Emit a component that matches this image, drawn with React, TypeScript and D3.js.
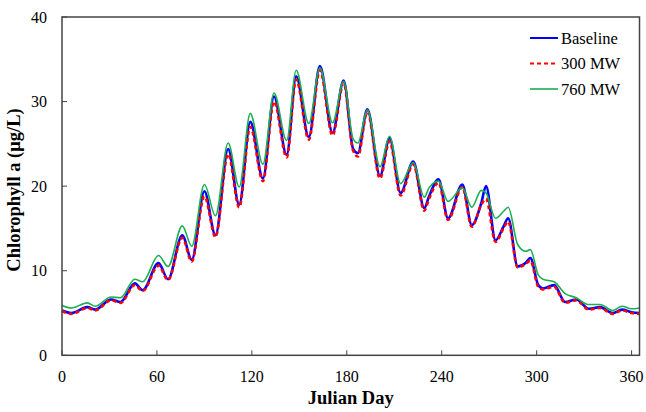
import React from "react";
import * as d3 from "d3";

const days = [0, 6, 16, 21, 31, 37, 46, 51, 61, 67, 76, 82, 90, 97, 105, 112, 119, 127, 134, 142, 148, 156, 163, 171, 178, 184, 187, 193, 201, 207, 214, 222, 229, 232, 238, 244, 253, 259, 265, 268, 274, 279, 282, 288, 293, 296, 301, 304, 311, 318, 325, 333, 340, 348, 354, 360, 365];

const baseline = [5.3, 5.0, 5.7, 5.4, 6.6, 6.3, 8.5, 7.7, 10.9, 9.0, 14.2, 11.3, 19.4, 14.2, 24.4, 17.8, 27.6, 20.9, 30.6, 23.7, 33.0, 25.8, 34.2, 26.3, 32.5, 24.4, 23.9, 29.1, 21.2, 25.7, 19.2, 22.9, 17.4, 18.8, 20.8, 16.2, 20.2, 15.4, 18.0, 20.0, 13.6, 15.2, 16.2, 10.5, 10.9, 11.5, 8.3, 7.9, 8.3, 6.3, 6.6, 5.5, 5.7, 5.0, 5.4, 5.1, 5.0];

const mw300 = [5.2, 4.9, 5.6, 5.3, 6.5, 6.2, 8.3, 7.6, 10.6, 8.9, 13.9, 11.1, 18.8, 14.0, 23.8, 17.5, 27.0, 20.6, 30.0, 23.4, 32.6, 25.5, 33.7, 26.0, 32.2, 24.2, 23.5, 28.8, 20.9, 25.3, 18.9, 22.6, 17.1, 18.5, 20.4, 16.0, 19.9, 15.2, 17.8, 18.5, 13.4, 15.0, 15.8, 10.4, 10.8, 11.2, 8.1, 7.8, 8.1, 6.2, 6.5, 5.4, 5.6, 4.9, 5.3, 5.0, 4.9];

const mw760 = [5.9, 5.6, 6.2, 5.8, 6.9, 6.8, 9.0, 8.7, 11.8, 10.5, 15.3, 12.9, 20.2, 16.5, 25.1, 19.9, 28.6, 22.6, 31.0, 25.4, 33.7, 27.4, 34.0, 27.5, 32.4, 25.6, 25.1, 29.0, 22.3, 25.9, 20.3, 22.8, 18.7, 19.8, 20.6, 18.2, 19.8, 17.5, 19.5, 19.2, 16.2, 17.0, 17.5, 13.1, 12.3, 12.5, 9.5, 9.0, 8.7, 7.3, 6.8, 6.0, 6.0, 5.3, 5.8, 5.5, 5.6];

const xTicks = [0, 60, 120, 180, 240, 300, 360];
const yTicks = [0, 10, 20, 30, 40];
const seriesNames = ["Baseline", "300 MW", "760 MW"];

const W = 646;
const H = 412;
const L = 62;
const R = 639.5;
const T = 17;
const B = 355.3;
const font = "'Liberation Serif', 'Times New Roman', serif";

export default function App() {
  const x = d3.scaleLinear().domain([0, 365]).range([L, R]);
  const y = d3.scaleLinear().domain([0, 40]).range([B, T]);
  const line = (vals: number[]) =>
    d3
      .line<number>()
      .x((_, i) => x(days[i]))
      .y((v) => y(v))
      .curve(d3.curveMonotoneX)(vals) || "";

  const series = [
    { name: seriesNames[0], vals: baseline, color: "#0000ff", width: 2.6, dash: "" },
    { name: seriesNames[1], vals: mw300, color: "#ff0000", width: 2.6, dash: "4 3" },
    { name: seriesNames[2], vals: mw760, color: "#1aaf50", width: 1.6, dash: "" },
  ];
  const axisColor = "#444";

  return (
    <svg
      width={W}
      height={H}
      style={{ position: "absolute", left: 0, top: 0, background: "#fff" }}
      fontFamily={font}
    >
      <rect x={0} y={0} width={W} height={H} fill="#fff" />
      {series.map((s) => (
        <path
          key={s.name}
          d={line(s.vals)}
          fill="none"
          stroke={s.color}
          strokeWidth={s.width}
          strokeDasharray={s.dash || undefined}
          strokeLinejoin="round"
        />
      ))}
      <rect x={L} y={T} width={R - L} height={B - T} fill="none" stroke={axisColor} strokeWidth={1.5} />
      {xTicks.map((t) => (
        <g key={"x" + t}>
          <line x1={x(t)} x2={x(t)} y1={B} y2={B - 5} stroke={axisColor} strokeWidth={1} />
          <text x={x(t)} y={382} textAnchor="middle" fontSize={16} fill="#000">
            {t}
          </text>
        </g>
      ))}
      {yTicks.map((t) => (
        <g key={"y" + t}>
          <line x1={L} x2={L + 5} y1={y(t)} y2={y(t)} stroke={axisColor} strokeWidth={1} />
          <text x={47} y={y(t) + 5.5} textAnchor="end" fontSize={16} fill="#000">
            {t}
          </text>
        </g>
      ))}
      <text x={(L + R) / 2} y={404} textAnchor="middle" fontSize={18.5} fontWeight="bold" fill="#000">
        Julian Day
      </text>
      <text
        transform={`translate(20, 190) rotate(-90)`}
        textAnchor="middle"
        fontSize={18.5}
        fontWeight="bold"
        fill="#000"
      >
        Chlorophyll a (μg/L)
      </text>
      {series.map((s, i) => (
        <g key={"lg" + s.name}>
          <line
            x1={530}
            x2={558}
            y1={38 + i * 25.5}
            y2={38 + i * 25.5}
            stroke={s.color}
            strokeWidth={s.name === "760 MW" ? 1.6 : 2}
            strokeDasharray={s.dash || undefined}
          />
          <text x={561} y={38 + i * 25.5 + 5.5} fontSize={16.5} fill="#000">
            {s.name}
          </text>
        </g>
      ))}
    </svg>
  );
}
